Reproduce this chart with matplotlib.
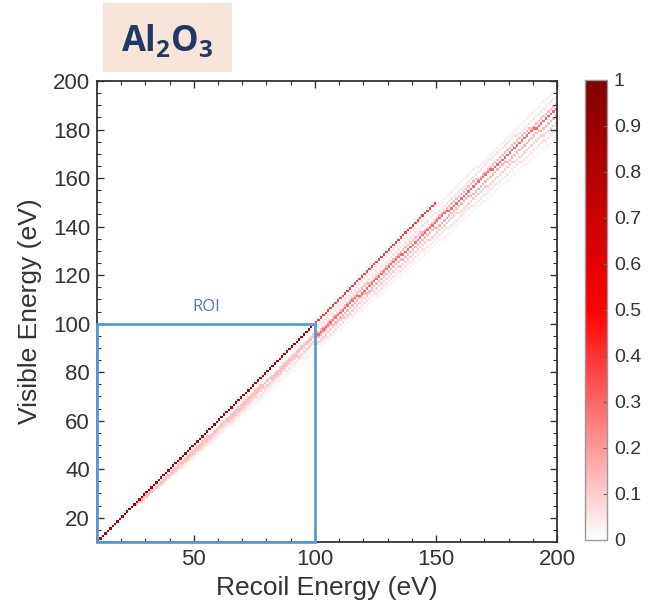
import numpy as np
import matplotlib.pyplot as plt
from matplotlib.colors import LinearSegmentedColormap
from matplotlib.patches import Rectangle
from matplotlib.ticker import MultipleLocator

plt.rcParams['font.family'] = ['Liberation Sans', 'DejaVu Sans']
plt.rcParams['mathtext.fontset'] = 'custom'
plt.rcParams['mathtext.bf'] = 'Open Sans:bold'
plt.rcParams['mathtext.rm'] = 'Open Sans'

# energy grid (1 eV bins)
e_min, e_max = 10, 200

# bands of the recoil -> visible response, as y = slope * x
band_slope = [1.000, 0.985, 0.970, 0.955, 0.945, 0.930, 0.915, 0.900, 0.885]
band_start = [10, 30, 28, 26, 28, 30, 35, 40, 45]
band_end = [150, 200, 200, 200, 200, 200, 200, 200, 200]
level_roi = [0.80, 0.00, 0.02, 0.12, 0.13, 0.10, 0.06, 0.03, 0.02]
level_above = [0.38, 0.04, 0.06, 0.14, 0.30, 0.15, 0.10, 0.06, 0.03]

roi_limits = [10, 100]
cbar_ticks = [0, 0.1, 0.2, 0.3, 0.4, 0.5, 0.6, 0.7, 0.8, 0.9, 1]

edges = np.arange(e_min, e_max + 1)
centers = edges[:-1] + 0.5
Z = np.zeros((len(centers), len(centers)))
for k, x0, x1, lo, hi in zip(band_slope, band_start, band_end, level_roi, level_above):
    for j, x in enumerate(centers):
        if x < x0 or x > x1:
            continue
        row = int(k * x - e_min)
        if 0 <= row < len(centers):
            val = lo if x <= 100 else hi
            Z[row, j] = max(Z[row, j], val)

cmap = LinearSegmentedColormap.from_list(
    'whitered', [(0, '#ffffff'), (0.5, '#ff0000'), (1, '#800000')])

fig = plt.figure(figsize=(6.61, 6.13), dpi=100)
ax = fig.add_axes([97/661, 71/613, 460/661, 461/613])
mesh = ax.pcolormesh(edges, edges, Z, cmap=cmap, vmin=0, vmax=1, shading='flat')

ax.set_xlim(e_min, e_max)
ax.set_ylim(e_min, e_max)
ax.set_xticks([50, 100, 150, 200])
ax.set_yticks(np.arange(20, 201, 20))
ax.xaxis.set_minor_locator(MultipleLocator(10))
ax.yaxis.set_minor_locator(MultipleLocator(5))
ax.tick_params(which='both', direction='in', top=True, right=True,
               color='#333333', labelcolor='#333333')
ax.tick_params(which='major', length=5, width=1, labelsize=16, pad=5)
ax.tick_params(which='minor', length=3, width=0.8)
for s in ax.spines.values():
    s.set_color('#333333')
    s.set_linewidth(1.3)

ax.set_xlabel('Recoil Energy (eV)', fontsize=19, color='#333333', labelpad=4)
ax.set_ylabel('Visible Energy (eV)', fontsize=19, color='#333333', labelpad=8)

# region of interest
w = roi_limits[1] - roi_limits[0]
ax.add_patch(Rectangle((roi_limits[0], roi_limits[0]), w, w, fill=False,
                       ec='#5b9bd5', lw=2, clip_on=False, zorder=5))
ax.text(55, 107, 'ROI', color='#4a78c0', fontsize=12, family='Open Sans',
        ha='center', va='center')

cax = fig.add_axes([585/661, 73/613, 22/661, 460/613])
cb = fig.colorbar(mesh, cax=cax, ticks=cbar_ticks)
cb.ax.set_yticklabels(['0', '0.1', '0.2', '0.3', '0.4', '0.5', '0.6', '0.7', '0.8', '0.9', '1'])
cb.outline.set_edgecolor('#999999')
cb.outline.set_linewidth(1)
cax.tick_params(labelsize=14, direction='in', length=3, color='#666666',
                labelcolor='#333333', pad=5)

# material tag
fig.patches.append(Rectangle((103/661, 1 - 72/613), 129/661, 69/613,
                             transform=fig.transFigure, fc='#f9e4da', ec='none'))
fig.text(167/661, 1 - 51/613, r'$\mathbf{Al_2O_3}$', ha='center', va='baseline',
         fontsize=25, color='#1f3864')

fig.savefig('out.png', dpi=100)
